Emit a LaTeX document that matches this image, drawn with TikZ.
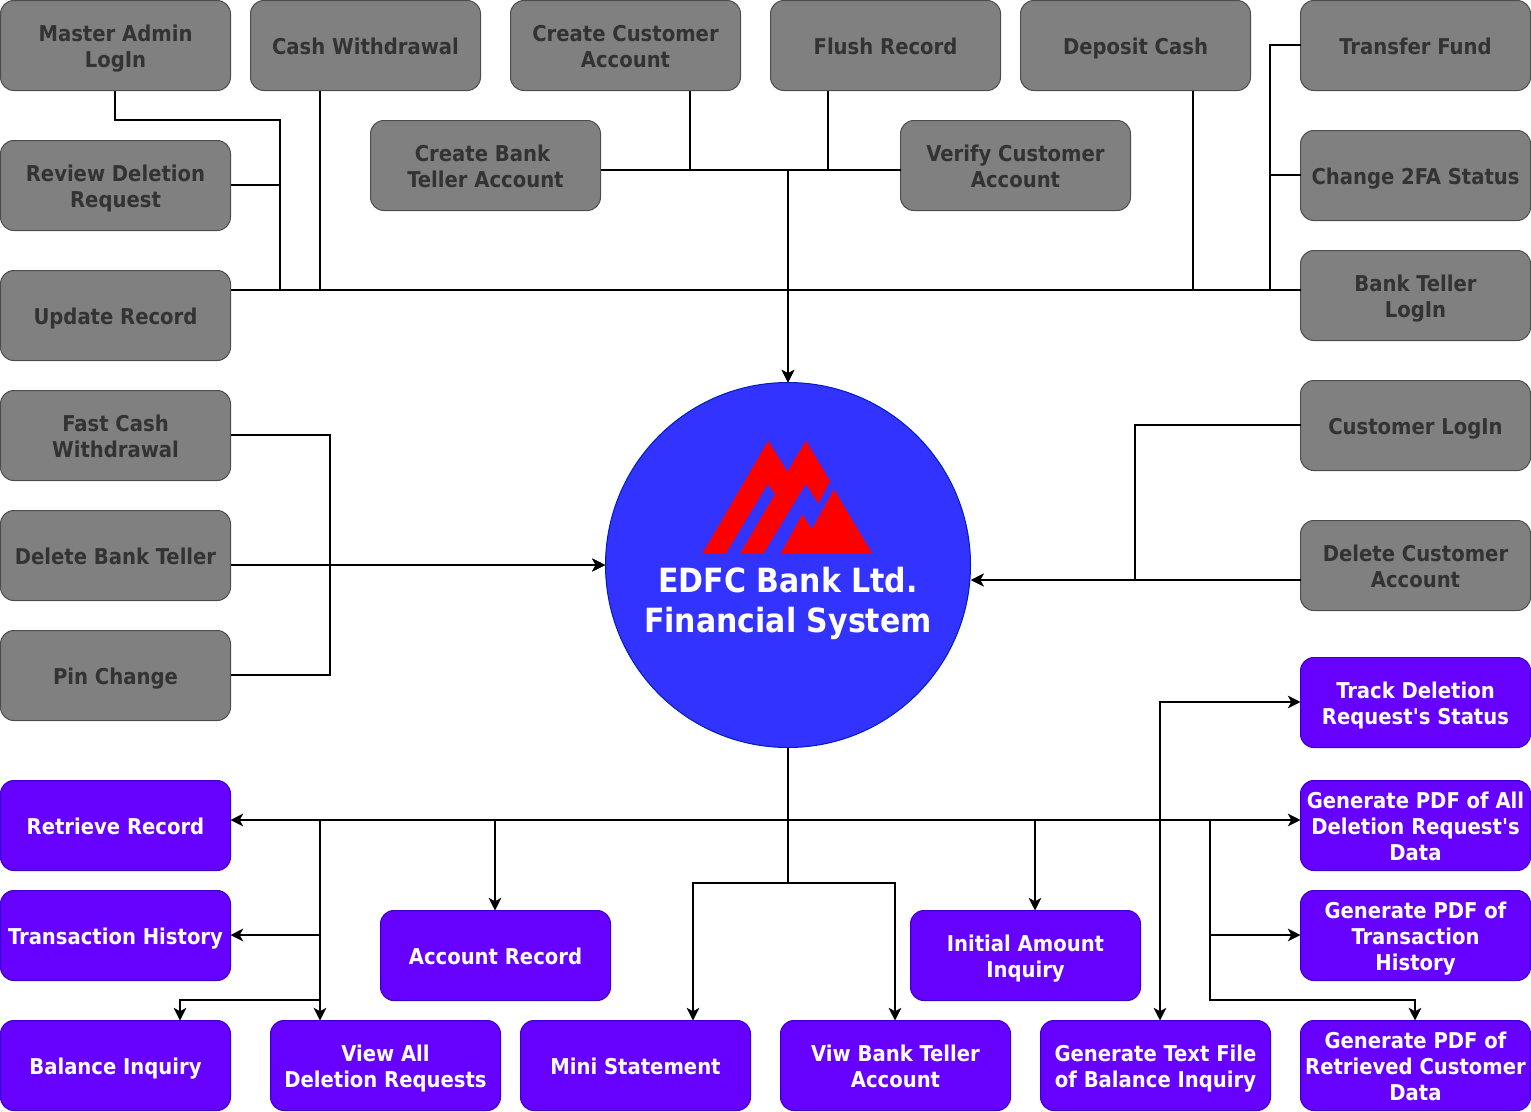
\documentclass[tikz,border=0pt]{standalone}
\usepackage{fontspec}
\setmainfont{DejaVu Sans Condensed}
\usetikzlibrary{arrows.meta}
\definecolor{grayfill}{HTML}{808080}
\definecolor{graystroke}{HTML}{4D4D4D}
\definecolor{graytext}{HTML}{333333}
\definecolor{purplefill}{HTML}{6600FF}
\definecolor{purplestroke}{HTML}{3700CC}
\definecolor{hubfill}{HTML}{3333FF}
\definecolor{hubstroke}{HTML}{001DBC}
\newcommand{\firstline}{\rule{0pt}{18pt}}
\newcommand{\lastline}{\rule[-5.2pt]{0pt}{5.2pt}}
\begin{document}
\begin{tikzpicture}[x=0.75pt,y=-0.75pt,
  boxbase/.style={rectangle,rounded corners=10pt,minimum width=172.5pt,minimum height=67.5pt,inner sep=0pt,outer sep=0pt,anchor=north west,align=center,line width=0.75pt,font=\fontsize{16.35pt}{19.5pt}\selectfont\bfseries},
  graybox/.style={boxbase,draw=graystroke,fill=grayfill,text=graytext},
  purplebox/.style={boxbase,draw=purplestroke,fill=purplefill,text=white},
  link/.style={line width=1.3pt,black,line join=miter},
  heavylink/.style={line width=1.9pt,black,line join=miter},
  arrowlink/.style={link,-{Stealth[length=9.5pt,width=9.5pt,inset=2.6pt]}}]
\useasboundingbox (0,0) rectangle (1531,1111);
% gray boxes
\node[graybox] (master) at (0.5,0.5) {\firstline Master Admin\\LogIn\lastline};
\node[graybox] (cash) at (250.5,0.5) {\firstline Cash Withdrawal\lastline};
\node[graybox] (createcust) at (510.5,0.5) {\firstline Create Customer\\Account\lastline};
\node[graybox] (flush) at (770.5,0.5) {\firstline Flush Record\lastline};
\node[graybox] (deposit) at (1020.5,0.5) {\firstline Deposit Cash\lastline};
\node[graybox] (transfer) at (1300.5,0.5) {\firstline Transfer Fund\lastline};
\node[graybox] (review) at (0.5,140.5) {\firstline Review Deletion\\Request\lastline};
\node[graybox] (createbank) at (370.5,120.5) {\firstline Create Bank\hspace*{4.5pt}\\Teller Account\lastline};
\node[graybox] (verify) at (900.5,120.5) {\firstline Verify Customer\\Account\lastline};
\node[graybox] (twofa) at (1300.5,130.5) {\firstline Change 2FA Status\lastline};
\node[graybox] (update) at (0.5,270.5) {\firstline Update Record\lastline};
\node[graybox] (tellerlogin) at (1300.5,250.5) {\firstline Bank Teller\\LogIn\lastline};
\node[graybox] (fastcash) at (0.5,390.5) {\firstline Fast Cash\\Withdrawal\lastline};
\node[graybox] (delteller) at (0.5,510.5) {\firstline Delete Bank Teller\lastline};
\node[graybox] (pin) at (0.5,630.5) {\firstline Pin Change\lastline};
\node[graybox] (custlogin) at (1300.5,380.5) {\firstline Customer LogIn\lastline};
\node[graybox] (delcust) at (1300.5,520.5) {\firstline Delete Customer\\Account\lastline};
% purple boxes
\node[purplebox] (track) at (1300.5,657.5) {\firstline Track Deletion\\Request\textquotesingle s Status\lastline};
\node[purplebox] (pdfall) at (1300.5,780.5) {\firstline Generate PDF of All\\Deletion Request\textquotesingle s\\Data\lastline};
\node[purplebox] (retrieve) at (0.5,780.5) {\firstline Retrieve Record\lastline};
\node[purplebox] (history) at (0.5,890.5) {\firstline Transaction History\lastline};
\node[purplebox] (account) at (380.5,910.5) {\firstline Account Record\lastline};
\node[purplebox] (initial) at (910.5,910.5) {\firstline Initial Amount\\Inquiry\lastline};
\node[purplebox] (pdftrans) at (1300.5,890.5) {\firstline Generate PDF of\\Transaction\hspace*{6pt}\\History\lastline};
\node[purplebox] (balance) at (0.5,1020.5) {\firstline Balance Inquiry\lastline};
\node[purplebox] (viewall) at (270.5,1020.5) {\firstline View All\\Deletion Requests\lastline};
\node[purplebox] (mini) at (520.5,1020.5) {\firstline Mini Statement\lastline};
\node[purplebox] (viewteller) at (780.5,1020.5) {\firstline Viw Bank Teller\\Account\lastline};
\node[purplebox] (gentext) at (1040.5,1020.5) {\firstline Generate Text File\\of Balance Inquiry\lastline};
\node[purplebox] (pdfret) at (1300.5,1020.5) {\firstline Generate PDF of\\Retrieved Customer\\Data\lastline};
% hub
\node[circle,draw=hubstroke,fill=hubfill,line width=0.75pt,minimum size=273.75pt,inner sep=0pt,outer sep=0pt] (hub) at (788,565) {};
\fill[red] (768.3,440.7)--(787.3,471.7)--(806,440.7)--(830,481)--(818.3,503.3)--(805.7,484)--(763.3,553.7)--(740,553.7)--(775,494.3)--(767.7,484)--(725.7,553.7)--(702.3,553.7)--cycle;
\fill[red] (834,489.3)--(872.3,553.7)--(780.7,553.7)--(802.3,514.3)--(812,529)--cycle;
\node[text=white,align=center,inner sep=0pt,font=\fontsize{25pt}{30pt}\selectfont\bfseries] (hubtext) at (788,603.3) {EDFC Bank Ltd.\\Financial System};
% junction coordinates
\coordinate (bust) at (788,290);
\coordinate (busm) at (788,170);
\coordinate (busb) at (788,820);
\coordinate (busl) at (320,820);
\coordinate (busr) at (1210,820);
\coordinate (busd) at (788,883);
\coordinate (trunkl) at (280,290);
\coordinate (trunkr) at (1270,290);
\coordinate (hubl) at (605,565);
\coordinate (hubr) at (971,580);
\coordinate (leftj) at (330,565);
\coordinate (rightj) at (1135,580);
\coordinate (vtrack) at (1160,820);
\coordinate (lowl) at (320,1000);
% top group
\draw[link] (master.south -| 115,0) |- (280,120) -- (trunkl) -- (bust);
\draw[link] (review.east |- 0,185) -| (trunkl) -- (bust);
\draw[link] (cash.south -| 320,0) |- (bust);
\draw[link] (update.east |- bust) -- (bust);
\draw[link] (tellerlogin.west |- bust) -- (bust);
\draw[link] (deposit.south -| 1193,0) |- (bust);
\draw[link] (transfer.west |- 0,45) -| (trunkr) -- (bust);
\draw[link] (twofa.west |- 0,175) -| (trunkr) -- (bust);
\draw[link] (createcust.south -| 690,0) |- (busm);
\draw[link] (flush.south -| 828,0) |- (busm);
\draw[link] (createbank.east |- busm) -- (busm);
\draw[link] (verify.west |- busm) -- (busm);
\draw[arrowlink] (busm) -- (hub.north -| busm);
\draw[arrowlink] (bust) -- (hub.north -| bust);
% left group
\draw[arrowlink] (fastcash.east |- 0,435) -| (leftj) -- (hubl);
\draw[arrowlink] (delteller.east |- hubl) -- (hubl);
\draw[arrowlink] (pin.east |- 0,675) -| (leftj) -- (hubl);
% right group
\draw[arrowlink] (custlogin.west |- 0,425) -| (rightj) -- (hubr);
\draw[arrowlink] (delcust.west |- hubr) -- (hubr);
% bottom group
\draw[link] (hub.south -| busb) -- (busb);
\draw[arrowlink] (busb) -- (retrieve.east |- busb);
\draw[arrowlink] (busb) -- (pdfall.west |- busb);
\draw[arrowlink] (busl) |- (history.east |- 0,935);
\draw[arrowlink] (busl) -- (lowl) -| (balance.north -| 180,0);
\draw[arrowlink] (busb) -- (busl) -- (viewall.north -| busl);
\draw[arrowlink] (busb) -| (account.north -| 495,0);
\draw[arrowlink] (busb) -| (initial.north -| 1035,0);
\draw[link] (busb) -- (busd);
\draw[arrowlink] (busd) -| (mini.north -| 693,0);
\draw[arrowlink] (busd) -| (viewteller.north -| 895,0);
\draw[arrowlink] (busb) -- (vtrack) |- (track.west |- 0,702);
\draw[arrowlink] (busb) -- (vtrack) -- (gentext.north -| vtrack);
\draw[arrowlink] (busr) |- (pdftrans.west |- 0,935);
\draw[arrowlink] (busb) -- (busr) |- (1415,1000) -- (pdfret.north -| 1415,0);
% shared runs, where several connectors lie over one another
\draw[heavylink] (trunkl) -- (trunkr);
\draw[heavylink] (busm) -- (bust);
\draw[heavylink] (bust) -- (788,370);
\draw[heavylink] (busl) -- (busr);
\draw[heavylink] (busl) -- (lowl);
\draw[heavylink] (leftj) -- (592,565);
\draw[heavylink] (rightj) -- (984,580);
\end{tikzpicture}
\end{document}
